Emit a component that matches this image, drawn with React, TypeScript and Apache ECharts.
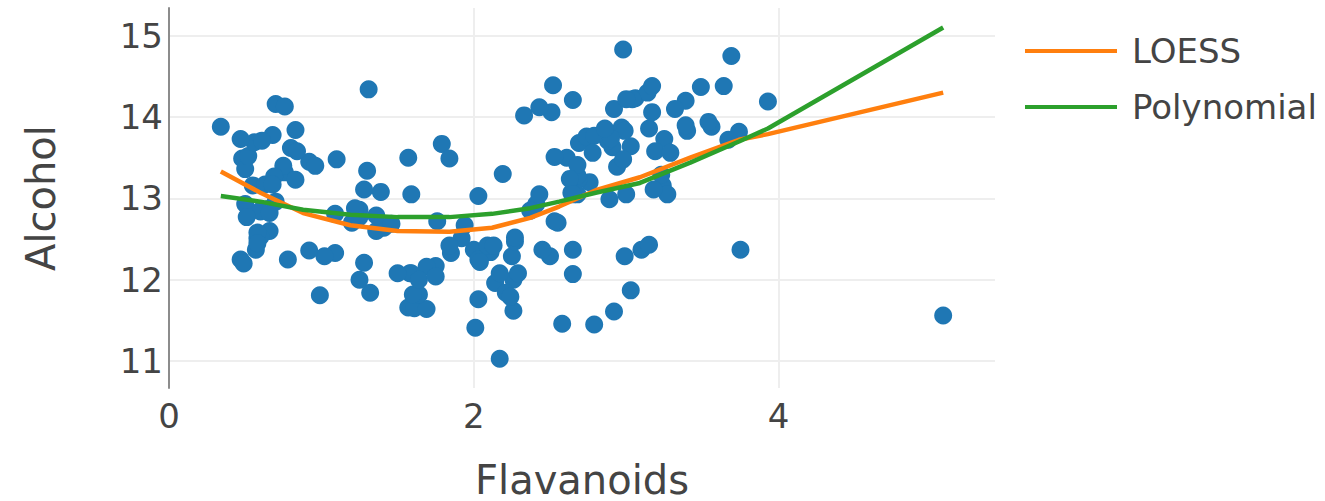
import React, { useEffect, useRef } from "react";
import * as echarts from "echarts";

const flavanoids = [
  3.06, 2.76, 3.24, 3.49, 2.69, 3.39, 2.52, 2.51, 2.98, 3.15, 3.32, 2.43, 2.76, 3.69, 3.64, 2.91, 3.14, 3.4, 3.93, 3.03,
  3.17, 2.41, 2.88, 2.37, 2.61, 2.68, 2.94, 2.19, 2.97, 2.33, 3.25, 3.19, 2.69, 2.74, 2.53, 2.98, 2.68, 2.43, 2.64, 3.04,
  3.29, 2.68, 3.56, 2.63, 3.0, 2.65, 3.17, 3.39, 2.92, 3.54, 3.27, 2.99, 3.74, 2.79, 2.9, 2.78, 3.0, 3.23, 3.67,
  0.57, 1.09, 1.41, 1.79, 3.1, 1.75, 2.65, 3.18, 2.0, 1.3, 1.28, 1.02, 2.86, 1.84, 2.89, 2.14, 1.57, 2.03, 1.32, 1.85,
  2.55, 2.26, 2.53, 1.58, 1.59, 2.21, 1.94, 1.69, 1.61, 1.69, 1.59, 1.5, 1.25, 1.46, 2.25, 2.26, 2.27, 0.99, 2.5, 3.75,
  2.99, 2.17, 1.36, 2.11, 1.64, 1.92, 1.84, 2.03, 1.76, 2.04, 2.92, 2.58, 2.27, 2.03, 2.01, 2.29, 2.17, 1.6, 2.09, 1.25,
  1.64, 2.79, 5.08, 2.13, 2.65, 3.03, 2.65, 3.15, 2.24, 2.45, 1.75,
  1.25, 1.22, 1.09, 1.2, 0.58, 0.66, 0.47, 0.6, 0.48, 0.6, 0.5, 0.5, 0.52, 0.8, 0.78, 0.55, 0.34, 0.65, 0.76, 1.39,
  1.57, 1.36, 1.28, 0.83, 0.58, 0.63, 0.83, 0.58, 1.31, 1.1, 0.92, 0.56, 0.6, 0.7, 0.68, 0.47, 0.92, 0.66, 0.84, 0.96,
  0.49, 0.51, 0.7, 0.61, 0.75, 0.69, 0.68, 0.76,
];

const alcohol = [
  14.23, 13.2, 13.16, 14.37, 13.24, 14.2, 14.39, 14.06, 14.83, 13.86, 14.1, 14.12, 13.75, 14.75, 14.38, 13.63, 14.3, 13.83, 14.19, 13.64,
  14.06, 12.93, 13.71, 12.85, 13.5, 13.05, 13.39, 13.3, 13.87, 14.02, 13.73, 13.58, 13.68, 13.76, 13.51, 13.48, 13.28, 13.05, 13.07, 14.22,
  13.56, 13.41, 13.88, 13.24, 13.05, 14.21, 14.38, 13.9, 14.1, 13.94, 13.05, 13.83, 13.82, 13.77, 13.74, 13.56, 14.22, 13.29, 13.72,
  12.37, 12.33, 12.64, 13.67, 12.37, 12.17, 12.37, 13.11, 12.37, 13.34, 12.21, 12.29, 13.86, 13.49, 12.99, 11.96, 11.66, 13.03, 11.84, 12.33,
  12.7, 12.0, 12.72, 12.08, 13.05, 11.84, 12.67, 12.16, 11.65, 11.64, 12.08, 12.08, 12.0, 12.69, 12.29, 11.62, 12.47, 11.81, 12.29, 12.37,
  12.29, 12.08, 12.6, 12.34, 11.82, 12.51, 12.42, 12.25, 12.72, 12.22, 11.61, 11.46, 12.52, 11.76, 11.41, 12.08, 11.03, 11.82, 12.42, 12.77,
  12.0, 11.45, 11.56, 12.42, 13.05, 11.87, 12.07, 12.43, 11.79, 12.37, 12.04,
  12.86, 12.88, 12.81, 12.7, 12.51, 12.6, 12.25, 12.53, 13.49, 12.84, 12.93, 13.36, 13.52, 13.62, 12.25, 13.16, 13.88, 12.87, 13.32, 13.08,
  13.5, 12.79, 13.11, 13.23, 12.58, 13.17, 13.84, 12.45, 14.34, 13.48, 12.36, 13.69, 12.85, 12.96, 13.78, 13.73, 13.45, 12.82, 13.58, 13.4,
  12.2, 12.77, 14.16, 13.71, 13.4, 13.27, 13.17, 14.13,
];

const fitX = [0.34, 0.6, 0.88, 1.19, 1.5, 1.84, 2.12, 2.37, 2.56, 2.8, 3.09, 3.42, 3.74, 3.93, 5.08];
const loessY = [13.33, 13.07, 12.82, 12.67, 12.6, 12.59, 12.64, 12.76, 12.9, 13.1, 13.26, 13.5, 13.72, 13.79, 14.3];
const polyY = [13.03, 12.96, 12.86, 12.8, 12.77, 12.77, 12.81, 12.88, 12.96, 13.07, 13.19, 13.44, 13.7, 13.86, 15.1];

const seriesNames = ["LOESS", "Polynomial"];
const FONT = "DejaVu Sans";
const TXT = "#444";

export default function App() {
  const ref = useRef<HTMLDivElement>(null);
  useEffect(() => {
    if (!ref.current) return;
    const chart = echarts.init(ref.current, null, { renderer: "svg" });
    const scatterData = flavanoids.map((x, i) => [x, alcohol[i]]);
    const loessData = fitX.map((x, i) => [x, loessY[i]]);
    const polyData = fitX.map((x, i) => [x, polyY[i]]);
    chart.setOption({
      animation: false,
      backgroundColor: "#fff",
      textStyle: { fontFamily: FONT },
      grid: { left: 169, top: 8, right: 330, bottom: 113, containLabel: false, outerBoundsMode: "none" },
      legend: {
        data: seriesNames,
        orient: "vertical",
        left: 1025,
        top: 31,
        padding: 0,
        icon: "rect",
        itemWidth: 92,
        itemHeight: 4,
        itemGap: 16,
        textStyle: {
          fontFamily: FONT,
          fontSize: 34,
          color: TXT,
          lineHeight: 40,
          padding: [0, 0, 0, 10],
        },
      },
      xAxis: {
        type: "value",
        min: 0,
        max: 5.42,
        interval: 2,
        name: "Flavanoids",
        nameLocation: "middle",
        nameGap: 75,
        nameTextStyle: { fontFamily: FONT, fontSize: 40, lineHeight: 34, color: TXT },
        axisLine: { show: false },
        axisTick: { show: false },
        axisLabel: { fontFamily: FONT, fontSize: 34, color: TXT, margin: 11, showMaxLabel: false },
        splitLine: { show: true, showMinLine: false, showMaxLine: false, lineStyle: { color: "#eeeeee", width: 2 } },
      },
      yAxis: {
        type: "value",
        min: 10.67,
        max: 15.34,
        name: "Alcohol",
        nameLocation: "middle",
        nameGap: 108,
        nameTextStyle: { fontFamily: FONT, fontSize: 40, color: TXT },
        axisLine: { show: true, onZero: false, lineStyle: { color: "#8c8c8c", width: 2 } },
        axisTick: { show: false },
        axisLabel: { fontFamily: FONT, fontSize: 34, color: TXT, margin: 6, showMinLabel: false, showMaxLabel: false },
        splitLine: { show: true, showMinLine: false, showMaxLine: false, lineStyle: { color: "#eeeeee", width: 2 } },
      },
      series: [
        {
          name: "Data",
          type: "scatter",
          data: scatterData,
          symbolSize: 18,
          itemStyle: { color: "#1f77b4", opacity: 1 },
        },
        {
          name: seriesNames[0],
          type: "line",
          data: loessData,
          showSymbol: false,
          symbol: "none",
          itemStyle: { color: "#ff7f0e" },
          lineStyle: { color: "#ff7f0e", width: 4.5 },
        },
        {
          name: seriesNames[1],
          type: "line",
          data: polyData,
          showSymbol: false,
          symbol: "none",
          itemStyle: { color: "#2ca02c" },
          lineStyle: { color: "#2ca02c", width: 4.5 },
        },
      ],
    });
    return () => chart.dispose();
  }, []);
  return (
    <div
      ref={ref}
      style={{ position: "absolute", left: 0, top: 0, width: 1325, height: 501 }}
    />
  );
}
